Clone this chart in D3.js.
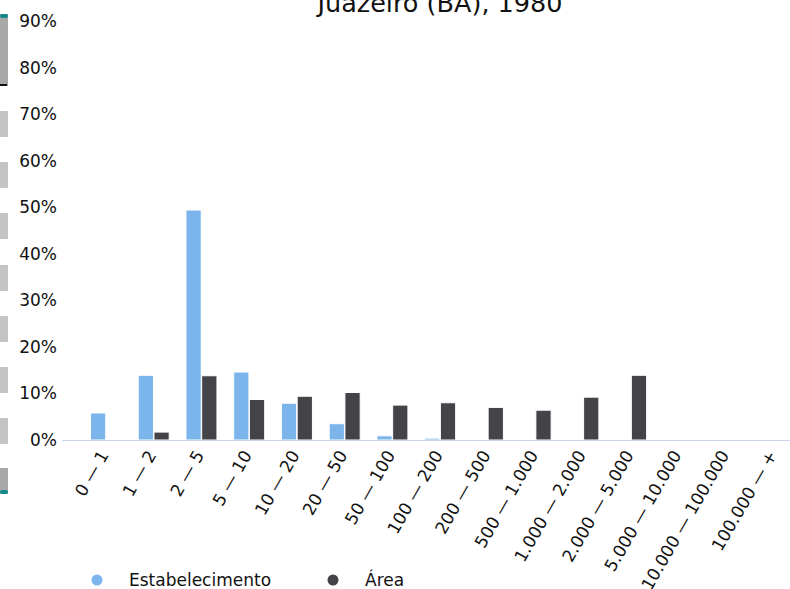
<!DOCTYPE html>
<html>
<head>
<meta charset="utf-8">
<script src="https://cdn.jsdelivr.net/npm/d3@7"></script>
<style>
  body { margin: 0; background: #fff; }
  svg { display: block; font-family: "DejaVu Sans", sans-serif; }
</style>
</head>
<body>
<div id="chart"></div>
<script>
// data
const categories = ["0 — 1", "1 — 2", "2 — 5", "5 — 10", "10 — 20", "20 — 50", "50 — 100",
    "100 — 200", "200 — 500", "500 — 1.000", "1.000 — 2.000", "2.000 — 5.000",
    "5.000 — 10.000", "10.000 — 100.000", "100.000 — +"];
const estabelecimento = [5.8, 13.9, 49.4, 14.6, 7.9, 3.5, 0.9, 0.4, 0, 0, 0, 0, 0, 0, 0];
const area = [0, 1.7, 13.8, 8.7, 9.4, 10.2, 7.5, 8.0, 7.0, 6.4, 9.2, 13.9, 0, 0, 0];
const yTicks = [0, 10, 20, 30, 40, 50, 60, 70, 80, 90];
const seriesNames = ["Estabelecimento", "Área"];
const colors = ["#7cb5ec", "#434348"];

const W = 790, H = 589;
const svg = d3.select("#chart").append("svg")
    .attr("width", W)
    .attr("height", H);

// left scrollbar remnant
const bar = svg.append("g");
bar.append("rect").attr("x", 0).attr("y", 14).attr("width", 8).attr("height", 72).attr("fill", "#a8a8a8");
bar.append("rect").attr("x", 0).attr("y", 14).attr("width", 8).attr("height", 4).attr("rx", 2).attr("fill", "#138a8a");
bar.append("rect").attr("x", 0).attr("y", 84).attr("width", 7).attr("height", 2).attr("fill", "#111");
[111, 162, 213, 265, 316, 367, 418].forEach(yy => {
    bar.append("rect").attr("x", 0).attr("y", yy).attr("width", 8).attr("height", 26).attr("fill", "#c4c4c4");
});
bar.append("rect").attr("x", 0).attr("y", 468).attr("width", 8).attr("height", 26).attr("fill", "#a8a8a8");
bar.append("rect").attr("x", 0).attr("y", 490).attr("width", 8).attr("height", 4).attr("rx", 2).attr("fill", "#138a8a");

// scales
const x0 = d3.scaleBand()
    .domain(categories)
    .range([82.1, 82.1 + 15 * 47.74]);
const x1 = d3.scaleBand()
    .domain(seriesNames)
    .range([-15.5, 15.5])
    .paddingInner(0.03);
const y = d3.scaleLinear()
    .domain([0, 90])
    .range([440, 21]);

// title
svg.append("text")
    .attr("x", 440)
    .attr("y", 12)
    .attr("text-anchor", "middle")
    .style("font-size", "25.5px")
    .attr("fill", "#111")
    .text("Juazeiro (BA), 1980");

// y axis labels
svg.append("g")
    .selectAll("text")
    .data(yTicks)
    .join("text")
    .attr("x", 57)
    .attr("y", d => y(d))
    .attr("dy", "0.35em")
    .attr("text-anchor", "end")
    .style("font-size", "17px")
    .attr("fill", "#111")
    .text(d => d + "%");

// bars
const series = [estabelecimento, area];
series.forEach((vals, si) => {
    svg.append("g")
        .selectAll("rect")
        .data(vals.map((v, i) => ({ cat: categories[i], v })))
        .join("rect")
        .attr("x", d => x0(d.cat) + x0.bandwidth() / 2 + x1(seriesNames[si]))
        .attr("y", d => y(d.v))
        .attr("width", x1.bandwidth())
        .attr("height", d => Math.max(0, y(0) - y(d.v)))
        .attr("fill", colors[si])
        .attr("stroke", "#fff")
        .attr("stroke-width", 1);
});

// x axis line
svg.append("line")
    .attr("x1", 62).attr("x2", 790)
    .attr("y1", 440.5).attr("y2", 440.5)
    .attr("stroke", "#ccd6eb");

// x labels
svg.append("g")
    .selectAll("text")
    .data(categories)
    .join("text")
    .attr("transform", d => "translate(" + (x0(d) + x0.bandwidth() / 2 - 2) + ",452) rotate(-60)")
    .attr("text-anchor", "end")
    .attr("dy", "0.35em")
    .style("font-size", "17px")
    .attr("fill", "#111")
    .text(d => d);

// legend
const legendX = [97, 333];
const legend = svg.append("g");
seriesNames.forEach((name, i) => {
    legend.append("circle")
        .attr("cx", legendX[i]).attr("cy", 580).attr("r", 5.5)
        .attr("fill", colors[i]);
    legend.append("text")
        .attr("x", legendX[i] + 32).attr("y", 580)
        .attr("dy", "0.35em")
        .style("font-size", "17px")
        .attr("fill", "#111")
        .text(name);
});
</script>
</body>
</html>
